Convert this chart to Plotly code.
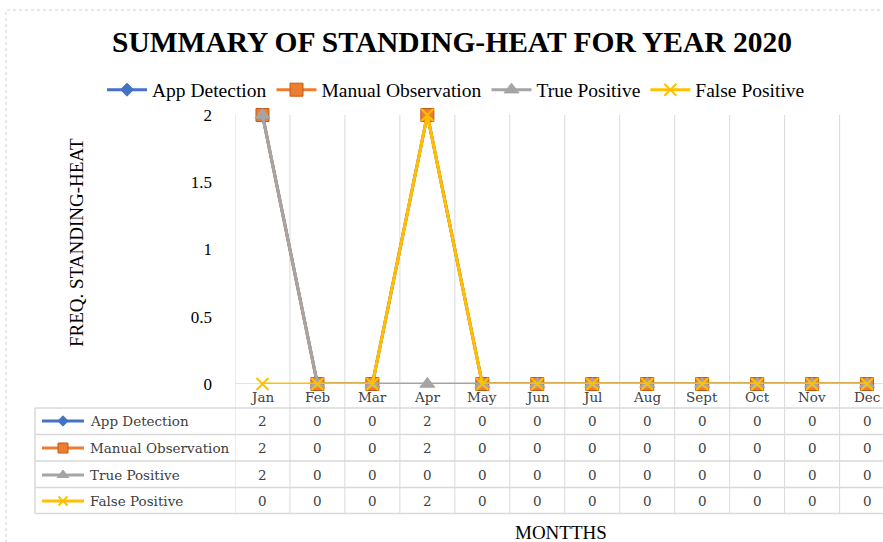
import plotly.graph_objects as go

W, H = 883, 542

months = ["Jan", "Feb", "Mar", "Apr", "May", "Jun", "Jul", "Aug", "Sept", "Oct", "Nov", "Dec"]
series_names = ["App Detection", "Manual Observation", "True Positive", "False Positive"]
app_detection = [2, 0, 0, 2, 0, 0, 0, 0, 0, 0, 0, 0]
manual_observation = [2, 0, 0, 2, 0, 0, 0, 0, 0, 0, 0, 0]
true_positive = [2, 0, 0, 0, 0, 0, 0, 0, 0, 0, 0, 0]
false_positive = [0, 0, 0, 2, 0, 0, 0, 0, 0, 0, 0, 0]
y_ticks = [0, 0.5, 1, 1.5, 2]
y_tick_labels = ["0", "0.5", "1", "1.5", "2"]

values = [app_detection, manual_observation, true_positive, false_positive]
colors = ["#4472C4", "#ED7D31", "#A5A5A5", "#FFC000"]
styles = [
    dict(symbol="diamond", size=10, line=dict(width=1, color="#4472C4")),
    dict(symbol="square", size=13, line=dict(width=1, color="#C55A11")),
    dict(symbol="triangle-up", size=13, line=dict(width=1, color="#A5A5A5")),
    dict(symbol="x-thin", size=12, line=dict(width=2, color="#FFC000")),
]

def px(x):
    return x / W

def py(y):
    return 1 - y / H

SERIF = "Liberation Serif"
TSERIF = "DejaVu Serif"
GRID = "#D9D9D9"

fig = go.Figure()
x_idx = list(range(len(months)))
for name, vals, c, st in zip(series_names, values, colors, styles):
    fig.add_trace(go.Scatter(
        x=x_idx, y=vals, name=name, mode="lines+markers",
        line=dict(color=c, width=3), marker=dict(color=c, **st),
        cliponaxis=False,
    ))

# table legend keys (pixel-space helper axis)
row_y = [421, 448, 475, 501]
for name, c, st, ry in zip(series_names, colors, styles, row_y):
    s2 = dict(st)
    s2["size"] = max(8, st["size"] - 3)
    fig.add_trace(go.Scatter(
        x=[42, 63, 84], y=[ry, ry, ry], mode="lines",
        line=dict(color=c, width=3), xaxis="x2", yaxis="y2",
        showlegend=False, hoverinfo="skip",
    ))
    fig.add_trace(go.Scatter(
        x=[63], y=[ry], mode="markers", marker=dict(color=c, **s2),
        xaxis="x2", yaxis="y2", showlegend=False, hoverinfo="skip",
    ))

shapes = []
shapes.append(dict(type="rect", xref="paper", yref="paper",
                   x0=px(6), x1=px(900), y0=py(560), y1=py(10),
                   line=dict(color="#D0D0D0", width=1, dash="dot")))
for i in range(len(months) + 1):
    shapes.append(dict(type="line", xref="x", yref="paper",
                       x0=i - 0.5, x1=i - 0.5, y0=py(513), y1=py(115),
                       line=dict(color=GRID, width=1), layer="below"))
shapes.append(dict(type="line", xref="paper", yref="y",
                   x0=px(235), x1=1, y0=0, y1=0,
                   line=dict(color=GRID, width=1.5), layer="below"))
for ly in [408, 434.5, 461, 487.5, 513.5]:
    shapes.append(dict(type="line", xref="paper", yref="paper",
                       x0=px(35), x1=1, y0=py(ly), y1=py(ly),
                       line=dict(color=GRID, width=1.5), layer="below"))
shapes.append(dict(type="line", xref="paper", yref="paper",
                   x0=px(35), x1=px(35), y0=py(408), y1=py(513.5),
                   line=dict(color=GRID, width=1.5), layer="below"))

annotations = []
for i, m in enumerate(months):
    annotations.append(dict(x=i, y=py(396.5), xref="x", yref="paper", text=m,
                            xanchor="center", yanchor="middle",
                            showarrow=False, font=dict(family=TSERIF, size=13.5, color="#404040")))
for name, vals, ry in zip(series_names, values, row_y):
    annotations.append(dict(x=px(88), y=py(ry), xref="paper", yref="paper", text=name,
                            xanchor="left", yanchor="middle", showarrow=False,
                            font=dict(family=TSERIF, size=13.5, color="#404040")))
    for i, v in enumerate(vals):
        annotations.append(dict(x=i, y=py(ry), xref="x", yref="paper", text=str(v),
                                xanchor="center", yanchor="middle",
                                showarrow=False, font=dict(family=TSERIF, size=13.5, color="#404040")))
annotations.append(dict(x=px(76), y=py(243), xref="paper", yref="paper",
                        text="FREQ. STANDING-HEAT", textangle=-90, showarrow=False,
                        xanchor="center", yanchor="middle",
                        font=dict(family=SERIF, size=19, color="#000000")))
annotations.append(dict(x=px(561), y=py(532), xref="paper", yref="paper",
                        text="MONTTHS", showarrow=False, xanchor="center", yanchor="middle",
                        font=dict(family=SERIF, size=19, color="#000000")))

fig.update_layout(
    width=W, height=H,
    margin=dict(l=0, r=0, t=0, b=0, autoexpand=False),
    paper_bgcolor="white", plot_bgcolor="rgba(0,0,0,0)",
    title=dict(text="<b>SUMMARY OF STANDING-HEAT FOR YEAR 2020</b>",
               x=px(452), xanchor="center", y=py(42), yanchor="middle",
               font=dict(family=SERIF, size=29.5, color="#000000")),
    legend=dict(orientation="h", x=px(456), xanchor="center", y=py(90), yanchor="middle",
                font=dict(family=SERIF, size=19.5, color="#000000"), itemwidth=40,
                bgcolor="rgba(0,0,0,0)"),
    xaxis=dict(domain=[px(235), 1], range=[-0.5, 11.29], showgrid=False, zeroline=False,
               showticklabels=False, showline=False, fixedrange=True),
    yaxis=dict(domain=[py(384), py(115)], range=[0, 2], tickvals=y_ticks, ticktext=y_tick_labels,
               showgrid=False, zeroline=False, showline=False, ticklabelstandoff=22,
               tickfont=dict(family=SERIF, size=17, color="#000000")),
    xaxis2=dict(domain=[0, 1], range=[0, W], visible=False, anchor="y2"),
    yaxis2=dict(domain=[0, 1], range=[H, 0], visible=False, anchor="x2"),
    shapes=shapes, annotations=annotations,
)

fig.write_html("out.html", config={"displayModeBar": False},
               post_script="document.body.style.margin='0';document.body.style.overflow='hidden';")
